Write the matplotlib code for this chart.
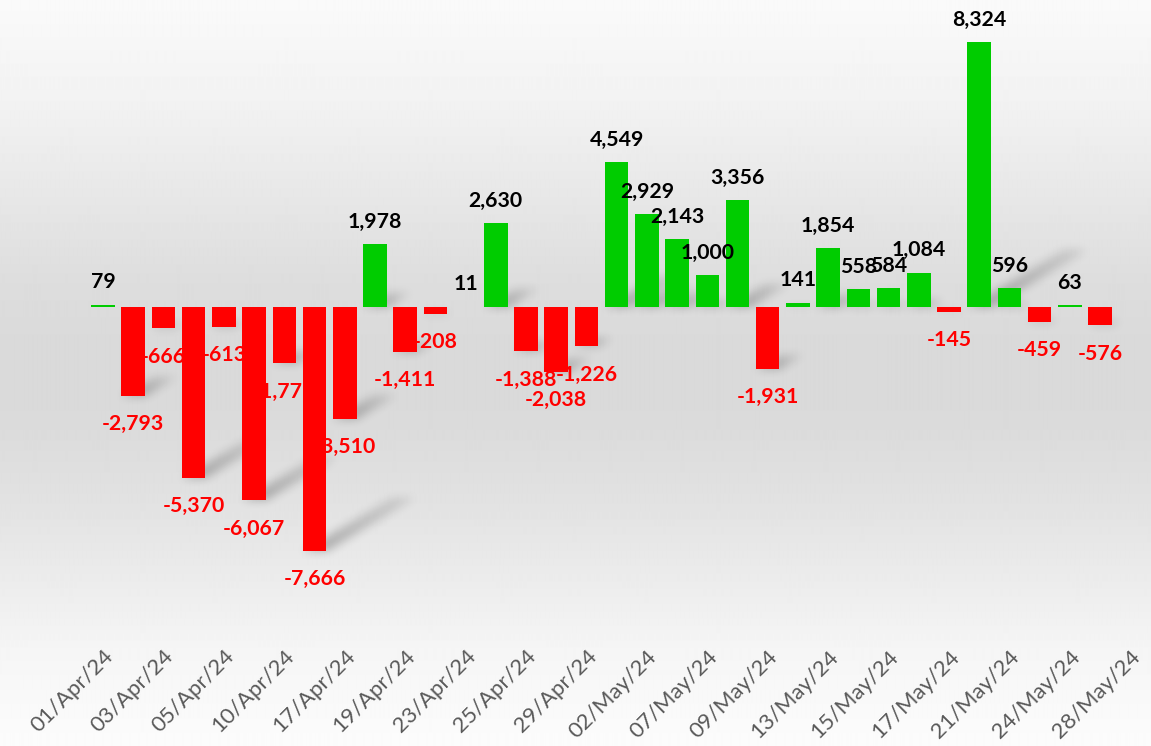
import numpy as np
import matplotlib
matplotlib.use("Agg")
import matplotlib.pyplot as plt
from matplotlib.path import Path

# daily net values, last date has no value
dates = ["01/Apr/24", "02/Apr/24", "03/Apr/24", "04/Apr/24", "05/Apr/24",
         "08/Apr/24", "10/Apr/24", "16/Apr/24", "17/Apr/24", "18/Apr/24",
         "19/Apr/24", "22/Apr/24", "23/Apr/24", "24/Apr/24", "25/Apr/24",
         "26/Apr/24", "29/Apr/24", "30/Apr/24", "02/May/24", "03/May/24",
         "07/May/24", "08/May/24", "09/May/24", "10/May/24", "13/May/24",
         "14/May/24", "15/May/24", "16/May/24", "17/May/24", "18/May/24",
         "21/May/24", "23/May/24", "24/May/24", "27/May/24", "28/May/24"]
values = [79, -2793, -666, -5370, -613, -6067, -1771, -7666, -3510, 1978,
          -1411, -208, 11, 2630, -1388, -2038, -1226, 4549, 2929, 2143,
          1000, 3356, -1931, 141, 1854, 558, 584, 1084, -145, 8324,
          596, -459, 63, -576, np.nan]

GREEN = "#00cc00"
RED = "#ff0000"

plt.rcParams['font.family'] = ['Lato', 'DejaVu Sans']


def box_blur(a, r, passes=3):
    # separable box blur, repeated -> roughly gaussian
    for _ in range(passes):
        for axis in (0, 1):
            p = np.pad(a, [(r, r) if i == axis else (0, 0) for i in range(2)], mode="edge")
            c = np.cumsum(p, axis=axis)
            c = np.insert(c, 0, 0, axis=axis)
            n = a.shape[axis]
            a = (np.take(c, np.arange(2 * r + 1, n + 2 * r + 1), axis=axis)
                 - np.take(c, np.arange(0, n), axis=axis)) / (2 * r + 1)
    return a


fig = plt.figure(figsize=(11.51, 7.46), dpi=100)

# background gradient (light top/bottom, grey middle)
bg = fig.add_axes([0, 0, 1, 1])
stops_y = [0, 100, 200, 280, 350, 420, 500, 580, 650, 746]
stops_v = [0.98, 0.95, 0.905, 0.868, 0.852, 0.856, 0.885, 0.925, 0.962, 0.988]
col = np.interp(np.arange(746), stops_y, stops_v)
bg.imshow(np.repeat(col[:, None], 4, axis=1), cmap="gray", vmin=0, vmax=1,
          aspect="auto", extent=[0, 1, 0, 1], interpolation="bilinear")
bg.axis("off")

ax = fig.add_axes([0.0764, 0.1448, 0.9187, 0.8552])
ax.set_facecolor("none")
x = np.arange(len(dates))
v = np.array(values, dtype=float)
ax.set_xlim(-0.5, len(dates) - 0.5)
ax.set_ylim(-10400, 9650)

width = 0.78
ok = ~np.isnan(v)
pos = ok & (v >= 0)
neg = ok & (v < 0)
# green bars sit under the black labels, red bars cover the red labels
ax.bar(x[pos], v[pos], width=width, color=GREEN, zorder=2)
ax.bar(x[neg], v[neg], width=width, color=RED, zorder=3)

# soft perspective shadows behind the bars (blurred mask image)
fig.canvas.draw()
bb = ax.get_window_extent()
W, H = int(round(bb.width)), int(round(bb.height))
gx = bb.x0 + np.arange(W) + 0.5
gy = bb.y0 + np.arange(H) + 0.5
GX, GY = np.meshgrid(gx, gy)
grid = np.column_stack([GX.ravel(), GY.ravel()])
mask = np.zeros(H * W)
px_x = ax.transData.transform((1, 0))[0] - ax.transData.transform((0, 0))[0]
px_y = ax.transData.transform((0, 1000))[1] - ax.transData.transform((0, 0))[1]
ang = np.deg2rad(31)
nseg = 6
for xi, val in zip(x[ok], v[ok]):
    h_px = abs(val) / 1000 * px_y
    L = 0.42 * h_px
    dx = L * np.cos(ang) / px_x
    dy = L * np.sin(ang) / px_y * 1000
    yb = min(val, 0)
    for s in range(nseg):
        t0, t1 = s / nseg, (s + 1) / nseg
        pts = [(xi - width / 2 + dx * t0, yb + dy * t0), (xi + width / 2 + dx * t0, yb + dy * t0),
               (xi + width / 2 + dx * t1, yb + dy * t1), (xi - width / 2 + dx * t1, yb + dy * t1)]
        path = Path(ax.transData.transform(pts))
        inside = path.contains_points(grid)
        mask[inside] = np.maximum(mask[inside], 1.0 - 0.65 * t0)
mask = box_blur(mask.reshape(H, W), 4)
shadow = np.zeros((H, W, 4))
shadow[..., 3] = 0.26 * mask
ax.imshow(shadow, origin="lower", extent=(*ax.get_xlim(), *ax.get_ylim()),
          aspect="auto", interpolation="bilinear", zorder=1)

# data labels
for xi, val in zip(x[ok], v[ok]):
    if val >= 0:
        ax.annotate(f"{val:,.0f}", (xi, val), xytext=(0, 16), textcoords="offset points",
                    ha="center", va="center", fontsize=15.3, fontweight="bold",
                    color="black", zorder=4)
    else:
        ax.annotate(f"{val:,.0f}", (xi, val), xytext=(0, -20.5), textcoords="offset points",
                    ha="center", va="center", fontsize=15.3, fontweight="bold",
                    color=RED, zorder=2.5)

ax.set_xticks(x[::2])
ax.set_xticklabels(dates[::2], rotation=45, ha="right", rotation_mode="anchor",
                   fontsize=16, color="#595959")
ax.tick_params(axis="x", length=0, pad=6)
ax.set_yticks([])
for s in ax.spines.values():
    s.set_visible(False)

fig.savefig("out.png", dpi=100)
